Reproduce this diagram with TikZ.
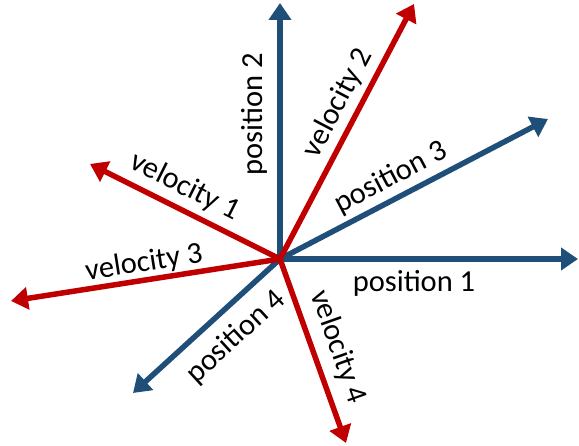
\documentclass[tikz,border=0pt]{standalone}
\usepackage{fontspec}
\setmainfont{Carlito}
\usetikzlibrary{arrows.meta}
\definecolor{posblue}{RGB}{31,78,121}
\definecolor{velred}{RGB}{192,0,0}
\tikzset{
  vec/.style={line width=5.5pt,-{Triangle[length=17pt,width=22pt]}},
  posvec/.style={vec,draw=posblue,fill=posblue},
  velvec/.style={vec,draw=velred,fill=velred},
  lbl/.style={font=\fontsize{30.5}{32}\selectfont,inner sep=0pt}
}
\begin{document}
\begin{tikzpicture}[x=1pt,y=1pt]
            \useasboundingbox (0,0) rectangle (579,446);
            \coordinate (o) at (280,187);
            
            \coordinate (p1) at (578,187);
            \coordinate (p2) at (280,443);
            \coordinate (p3) at (548,327);
            \coordinate (p4) at (133,53);
            
            \coordinate (v1) at (90,282);
            \coordinate (v2) at (414,442);
            \coordinate (v3) at (11,145);
            \coordinate (v4) at (346,3);
            
            \draw[posvec] (o) -- (p1);
            \draw[posvec] (o) -- (p2);
            \draw[posvec] (o) -- (p3);
            \draw[posvec] (o) -- (p4);
            
            \draw[velvec] (o) -- (v1);
            \draw[velvec] (o) -- (v2);
            \draw[velvec] (o) -- (v3);
            \draw[velvec] (o) -- (v4);
            
            \node[lbl] (lp1) at (414,163) {position 1};
            \node[lbl,rotate=90] (lp2) at (254,332) {position 2};
            \node[lbl,rotate=27.7] (lp3) at (391,268) {position 3};
            \node[lbl,rotate=42.5] (lp4) at (236,109) {position 4};
            
            \node[lbl,rotate=-26.6] (lv1) at (185,259) {velocity 1};
            \node[lbl,rotate=62.3] (lv2) at (338,343) {velocity 2};
            \node[lbl,rotate=8.9] (lv3) at (144,183) {velocity 3};
            \node[lbl,rotate=-70.5] (lv4) at (338,99) {velocity 4};
        \end{tikzpicture}
\end{document}
